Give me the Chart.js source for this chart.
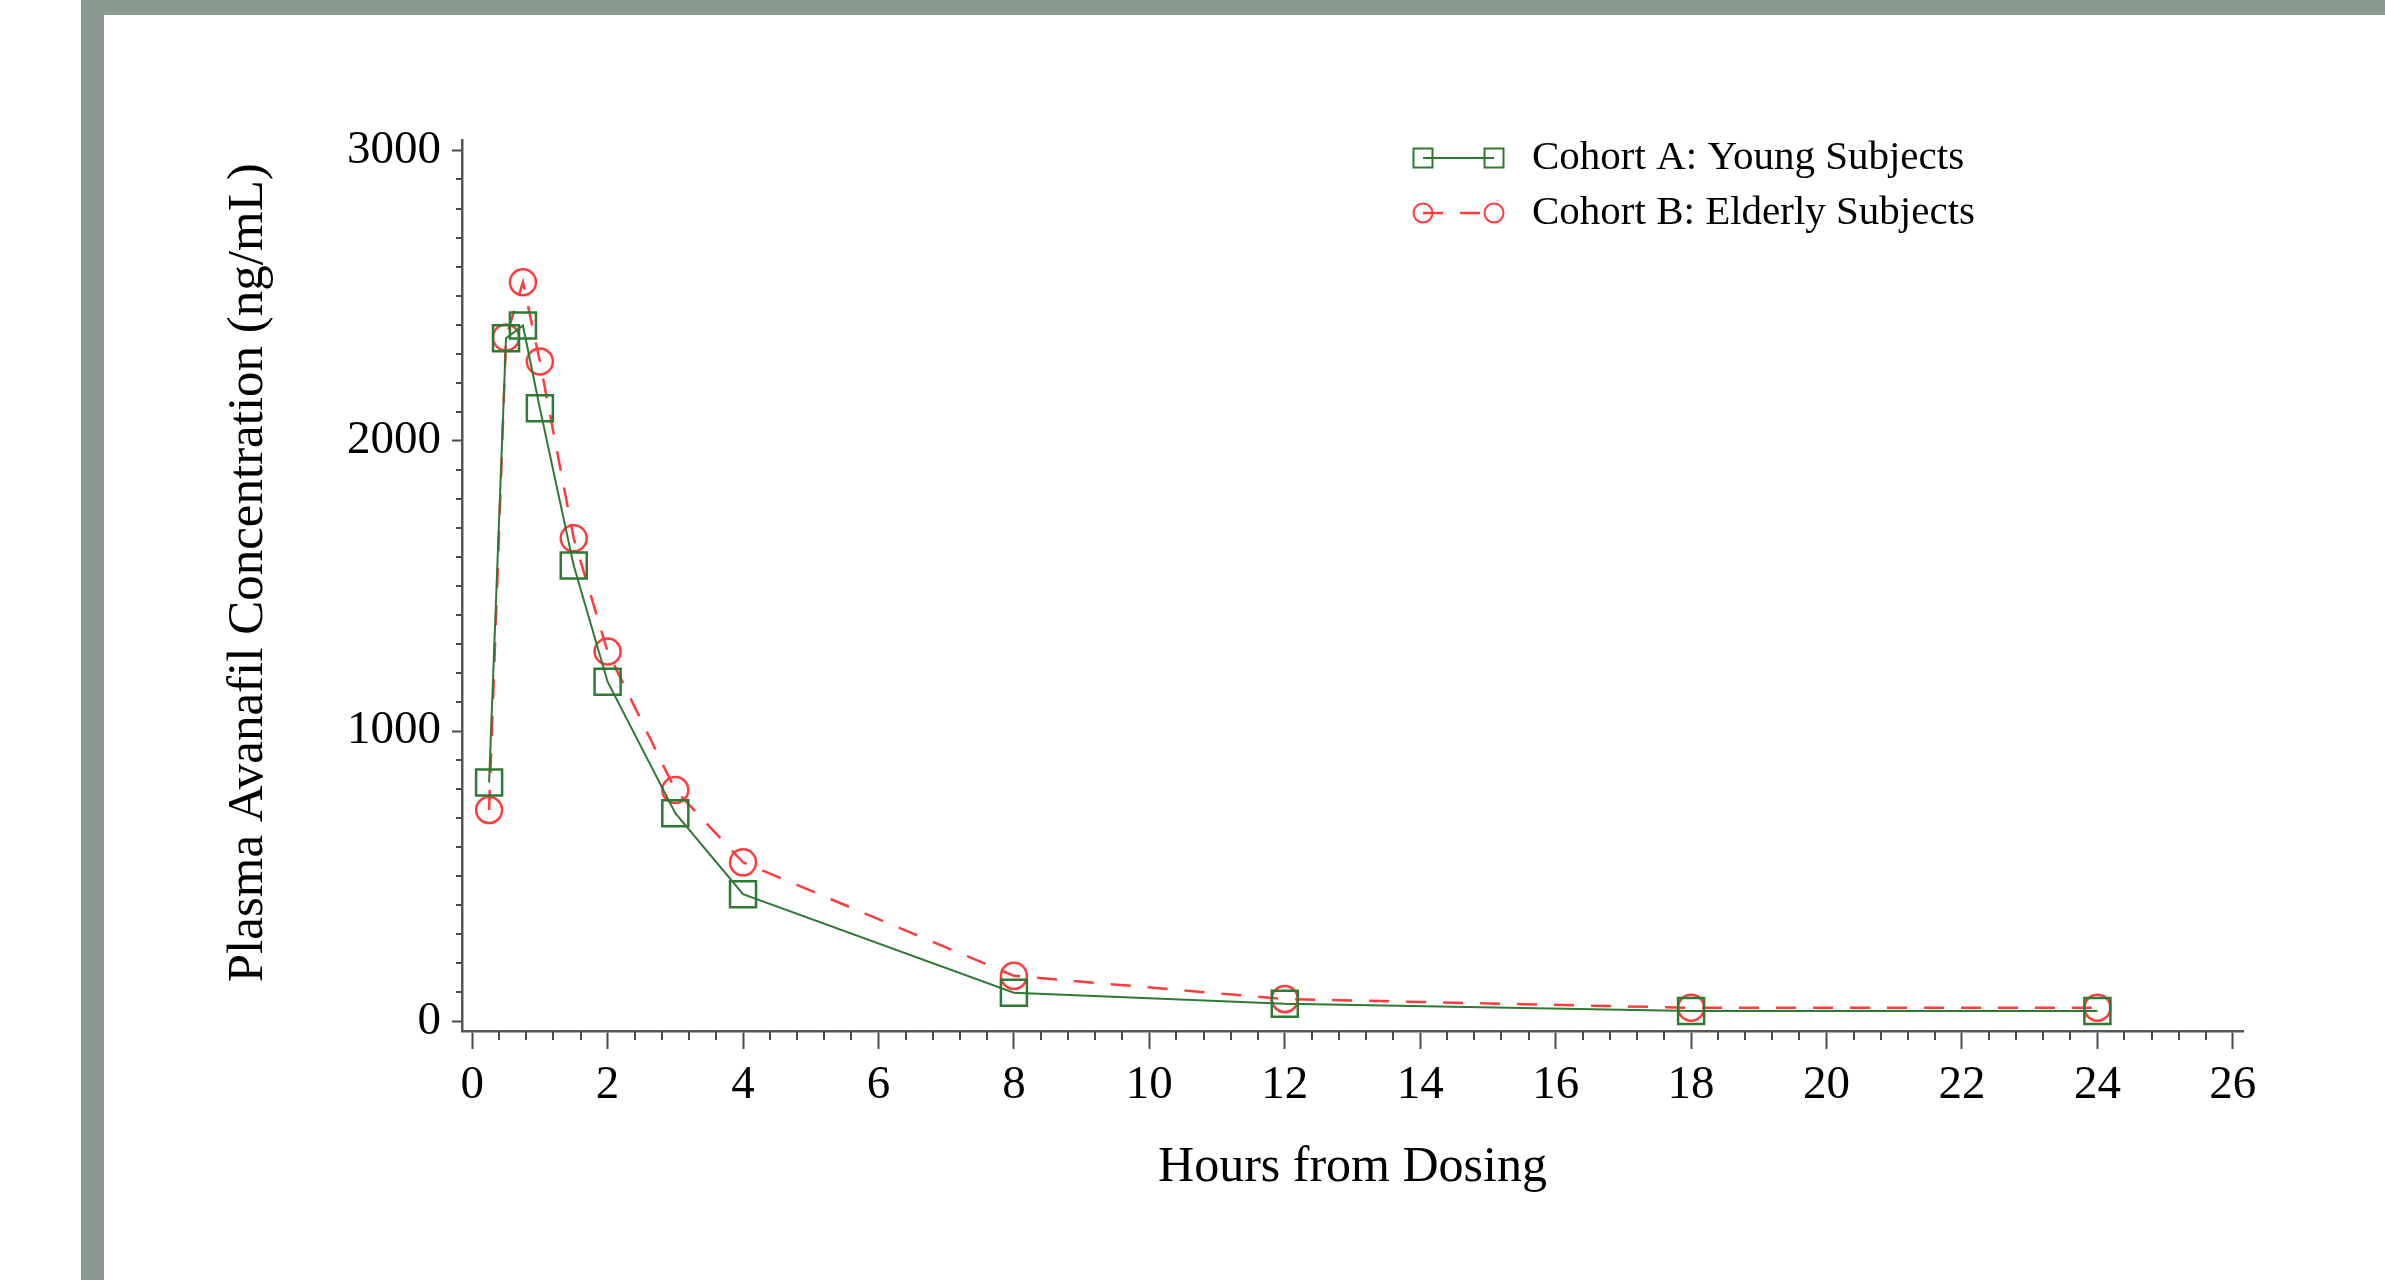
<!DOCTYPE html>
<html lang="en">
  <head>
    <meta charset="UTF-8" />
    <title>Plasma Avanafil Concentration</title>
    <script src="https://cdn.jsdelivr.net/npm/chart.js"></script>
    <style>
      html, body {
        margin: 0;
        padding: 0;
        background: #fff;
      }
      body {
        width: 2385px;
        height: 1280px;
        position: relative;
        overflow: hidden;
      }
      .frame {
        position: absolute;
        left: 81px;
        top: 0;
        right: 0;
        bottom: 0;
        border-left: 23px solid #8a9a90;
        border-top: 15px solid #8a9a90;
        background: #fff;
      }
      #pkChart {
        position: absolute;
        left: 0;
        top: 0;
      }
    </style>
  </head>
  <body>
    <div class="frame"></div>
    <canvas id="pkChart" width="2385" height="1280" style="width:2385px;height:1280px"></canvas>
    <script>
      // values (ng/mL)
      const hours = [0.25, 0.5, 0.75, 1, 1.5, 2, 3, 4, 8, 12, 18, 24];
      const youngConc = [823, 2353, 2397, 2112, 1570, 1170, 717, 438, 99, 61, 36, 36];
      const elderlyConc = [728, 2356, 2546, 2273, 1664, 1274, 797, 548, 157, 77, 47, 47];
      const seriesNames = ["Cohort A: Young Subjects", "Cohort B: Elderly Subjects"];
      const xTickLabels = [0, 2, 4, 6, 8, 10, 12, 14, 16, 18, 20, 22, 24, 26];
      const yTickLabels = [0, 1000, 2000, 3000];

      const FONT = "Liberation Serif";
      const GREEN = "#2e7a32";
      const RED = "#ff3b3b";
      const AXIS = "#4a4a4a";

      function toPoints(ys) {
        return hours.map((h, i) => ({ x: h, y: ys[i] }));
      }

      // small ticks between the labelled ones
      const minorTicks = {
        id: "minorTicks",
        afterDraw(chart) {
          const { ctx } = chart;
          const x = chart.scales.x;
          const y = chart.scales.y;
          ctx.save();
          ctx.strokeStyle = AXIS;
          ctx.lineWidth = 2;
          ctx.beginPath();
          for (let i = 1; i < 65; i++) {
            if (i % 5 === 0) continue;
            const px = Math.round(x.getPixelForValue(i * 0.4));
            ctx.moveTo(px, x.top);
            ctx.lineTo(px, x.top + 9);
          }
          for (let v = 100; v < 3000; v += 100) {
            if (v % 1000 === 0) continue;
            const py = Math.round(y.getPixelForValue(v));
            ctx.moveTo(y.right, py);
            ctx.lineTo(y.right - 6, py);
          }
          ctx.stroke();
          ctx.restore();
        },
      };

      // legend drawn like the original: line with a marker at each end
      const lineLegend = {
        id: "lineLegend",
        afterDraw(chart) {
          const { ctx } = chart;
          const rows = [158, 213];
          const x0 = 1423, x1 = 1494;
          ctx.save();
          chart.data.datasets.forEach((ds, i) => {
            const yy = rows[i];
            ctx.strokeStyle = ds.borderColor;
            ctx.lineWidth = ds.borderWidth;
            ctx.setLineDash(ds.borderDash || []);
            ctx.beginPath();
            ctx.moveTo(x0, yy);
            ctx.lineTo(x1, yy);
            ctx.stroke();
            ctx.setLineDash([]);
            ctx.lineWidth = 2;
            [x0, x1].forEach((cx) => {
              ctx.beginPath();
              if (ds.pointStyle === "rect") {
                ctx.rect(cx - 9.5, yy - 9.5, 19, 19);
              } else {
                ctx.arc(cx, yy, 9.5, 0, Math.PI * 2);
              }
              ctx.stroke();
            });
            ctx.fillStyle = "#000";
            ctx.font = "41px '" + FONT + "'";
            ctx.textBaseline = "middle";
            ctx.textAlign = "left";
            ctx.fillText(ds.label, 1532, yy);
          });
          ctx.restore();
        },
      };

      const ctx = document.getElementById("pkChart").getContext("2d");
      const pkChart = new Chart(ctx, {
        type: "line",
        data: {
          datasets: [
            {
              label: seriesNames[0],
              data: toPoints(youngConc),
              borderColor: GREEN,
              borderWidth: 2,
              tension: 0,
              fill: false,
              pointStyle: "rect",
              pointRadius: 18.4,
              pointBorderWidth: 2.5,
              pointBorderColor: GREEN,
              pointBackgroundColor: "rgba(0,0,0,0)",
            },
            {
              label: seriesNames[1],
              data: toPoints(elderlyConc),
              borderColor: RED,
              borderWidth: 2.5,
              borderDash: [20, 17],
              tension: 0,
              fill: false,
              pointStyle: "circle",
              pointRadius: 13,
              pointBorderWidth: 2.5,
              pointBorderColor: RED,
              pointBackgroundColor: "rgba(0,0,0,0)",
            },
          ],
        },
        options: {
          responsive: false,
          animation: false,
          clip: false,
          layout: {
            padding: { left: 0, top: 140, right: 142, bottom: 0 },
          },
          plugins: {
            legend: { display: false },
            tooltip: { enabled: false },
          },
          scales: {
            x: {
              type: "linear",
              min: -0.15,
              max: 26.15,
              afterBuildTicks: (s) => {
                s.ticks = xTickLabels.map((v) => ({ value: v }));
              },
              afterFit: (s) => {
                s.height = 249;
              },
              grid: {
                drawOnChartArea: false,
                drawTicks: true,
                tickLength: 18,
                tickColor: AXIS,
                tickWidth: 2,
              },
              border: { display: true, color: "#555", width: 2.5 },
              ticks: {
                color: "#000",
                font: { family: FONT, size: 47 },
                padding: 8,
                maxRotation: 0,
                autoSkip: false,
                callback: (v) => String(v),
              },
              title: {
                display: true,
                text: "Hours from Dosing",
                color: "#000",
                font: { family: FONT, size: 50 },
                padding: { top: 0, bottom: 82 },
              },
            },
            y: {
              min: -33,
              max: 3036,
              afterBuildTicks: (s) => {
                s.ticks = yTickLabels.map((v) => ({ value: v }));
              },
              afterFit: (s) => {
                s.width = 462;
              },
              grid: {
                drawOnChartArea: false,
                drawTicks: true,
                tickLength: 10,
                tickColor: AXIS,
                tickWidth: 2,
              },
              border: { display: true, color: "#555", width: 2.5 },
              ticks: {
                color: "#000",
                font: { family: FONT, size: 47 },
                padding: 11,
                autoSkip: false,
                callback: (v) => String(v),
              },
              title: {
                display: true,
                // en space in front nudges the rotated title up a little
                text: "\u2002Plasma Avanafil Concentration (ng/mL)",
                color: "#000",
                font: { family: FONT, size: 51 },
                padding: { top: 218, bottom: 0 },
              },
            },
          },
        },
        plugins: [minorTicks, lineLegend],
      });
    </script>
  </body>
</html>
